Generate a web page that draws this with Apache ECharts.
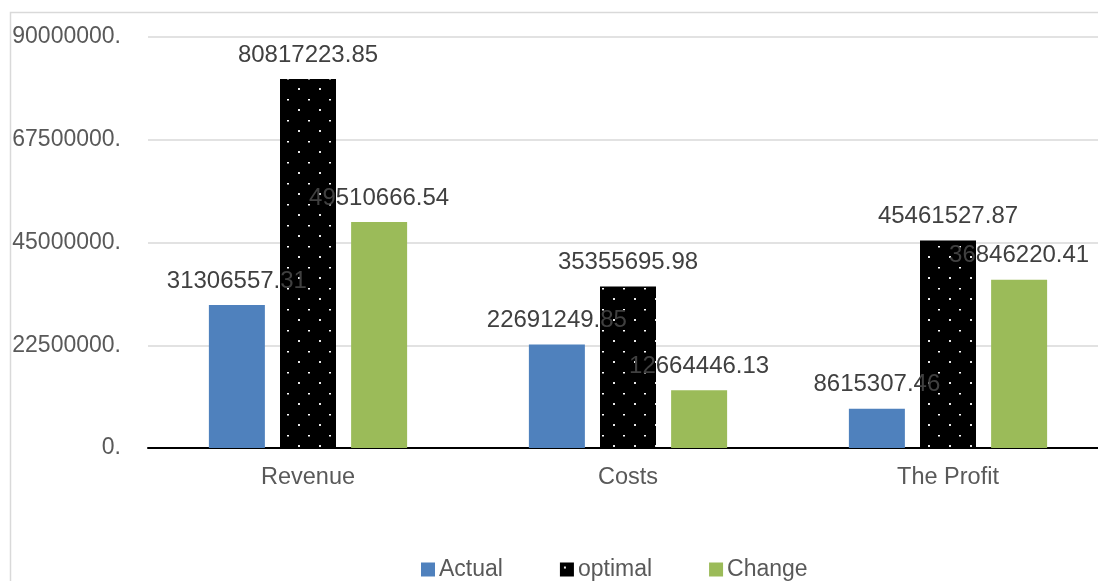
<!DOCTYPE html>
<html>
<head>
<meta charset="utf-8">
<script src="https://cdn.jsdelivr.net/npm/echarts@6/dist/echarts.min.js"></script>
<style>
  html, body { margin: 0; padding: 0; background: #fff; overflow: hidden; }
  #chart { width: 1108px; height: 581px; }
</style>
</head>
<body>
<div id="chart"></div>
<script>
// Categories and series values
const categories = ['Revenue', 'Costs', 'The Profit'];
const actualValues = [31306557.31, 22691249.85, 8615307.46];
const optimalValues = [80817223.85, 35355695.98, 45461527.87];
const changeValues = [49510666.54, 12664446.13, 36846220.41];
const seriesNames = ['Actual', 'optimal', 'Change'];

// Axis settings
const yMin = 0;
const yMax = 90000000;
const yInterval = 22500000;

// Black fill with a staggered grid of white dots
function dotPattern() {
  const c = document.createElement('canvas');
  c.width = 21; c.height = 21;
  const g = c.getContext('2d');
  g.fillStyle = '#000';
  g.fillRect(0, 0, 21, 21);
  g.fillStyle = '#e8e8e8';
  g.fillRect(4, 4, 2, 2);
  g.fillStyle = '#ffffff';
  g.fillRect(14, 15, 2, 1.5);
  return c;
}

const font = '"Liberation Sans", Arial, sans-serif';
const labelStyle = {
  show: true,
  position: 'top',
  distance: 12,
  color: '#404040',
  fontSize: 24,
  fontFamily: font,
  formatter: p => p.value.toFixed(2)
};

const chart = echarts.init(document.getElementById('chart'), null, { renderer: 'canvas' });
chart.setOption({
  animation: false,
  backgroundColor: '#ffffff',
  graphic: [{
    type: 'rect',
    left: 8, top: 10,
    shape: { x: 0, y: 0, width: 1200, height: 700 },
    style: { fill: 'none', stroke: '#d9d9d9', lineWidth: 1.5 },
    silent: true,
    z: -1
  }],
  grid: { left: 148, right: 0, top: 37, bottom: 133, containLabel: false },
  legend: {
    bottom: 0,
    left: 421,
    padding: 0,
    itemWidth: 14,
    itemHeight: 14,
    itemGap: 57,
    icon: 'rect',
    textStyle: { color: '#595959', fontSize: 23, fontFamily: font, padding: [0, 0, 0, -1] },
    data: seriesNames
  },
  xAxis: {
    type: 'category',
    data: categories,
    axisLine: { lineStyle: { color: '#000', width: 2 } },
    axisTick: { show: false },
    axisLabel: { color: '#595959', fontSize: 23.5, fontFamily: font, margin: 18 }
  },
  yAxis: {
    type: 'value',
    min: yMin, max: yMax, interval: yInterval,
    axisLine: { show: false },
    axisTick: { show: false },
    splitLine: { lineStyle: { color: '#d9d9d9', width: 1.5 } },
    axisLabel: {
      color: '#595959', fontSize: 23, fontFamily: font, margin: 27,
      formatter: v => String(Math.round(v)) + '.'
    }
  },
  series: [
    {
      name: seriesNames[0], type: 'bar', data: actualValues,
      barWidth: 56, barGap: '27%',
      itemStyle: { color: '#4F81BD' },
      label: labelStyle
    },
    {
      name: seriesNames[1], type: 'bar', data: optimalValues,
      barWidth: 56, barGap: '27%',
      itemStyle: { color: { image: dotPattern(), repeat: 'repeat' } },
      label: labelStyle
    },
    {
      name: seriesNames[2], type: 'bar', data: changeValues,
      barWidth: 56, barGap: '27%',
      itemStyle: { color: '#9BBB59' },
      label: labelStyle
    }
  ]
});
</script>
</body>
</html>
